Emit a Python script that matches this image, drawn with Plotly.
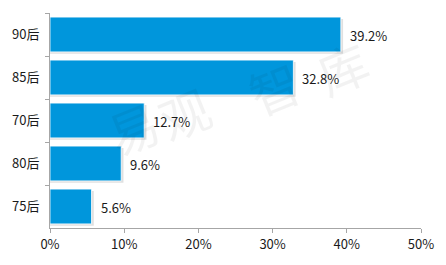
import plotly.graph_objects as go

categories = ["90后", "85后", "70后", "80后", "75后"]
values = [39.2, 32.8, 12.7, 9.6, 5.6]
x_ticks = [0, 10, 20, 30, 40, 50]
x_tick_labels = ["0%", "10%", "20%", "30%", "40%", "50%"]
watermark_chars = ["易", "观", "智", "库"]

BAR_W = 0.81
FONT = "Noto Sans CJK SC, Noto Sans, sans-serif"

fig = go.Figure()
# soft shadow
fig.add_trace(go.Bar(
    y=categories, x=[v + 0.3 for v in values], orientation="h",
    width=BAR_W, offset=-BAR_W / 2 + 0.045,
    marker=dict(color="rgba(0,0,0,0.12)", line=dict(width=0)),
    hoverinfo="skip", showlegend=False,
))
fig.add_trace(go.Bar(
    y=categories, x=values, orientation="h",
    width=BAR_W, offset=-BAR_W / 2,
    marker=dict(color="#0096dc", line=dict(color="white", width=0.8)),
    showlegend=False,
))

for c, v in zip(categories, values):
    fig.add_annotation(x=v, y=c, text=f"{v:.1f}%", showarrow=False,
                       xanchor="left", xshift=7, yshift=-1,
                       font=dict(family=FONT, size=13, color="#1a1a1a"))

wm_pos = [(0.223, 0.47), (0.362, 0.539), (0.603, 0.654), (0.786, 0.751)]
for ch, (px, py) in zip(watermark_chars, wm_pos):
    fig.add_annotation(x=px, y=py, xref="paper", yref="paper",
                       xanchor="center", yanchor="middle",
                       text=ch, showarrow=False, textangle=-22,
                       font=dict(family=FONT, size=50, color="rgba(0,0,0,0.05)"))

fig.update_layout(
    width=446, height=265,
    margin=dict(l=50, r=23, t=13, b=35),
    plot_bgcolor="white", paper_bgcolor="white",
    barmode="overlay",
    font=dict(family=FONT, size=13, color="#1a1a1a"),
    xaxis=dict(range=[0, 50], tickvals=x_ticks, ticktext=x_tick_labels,
               showgrid=False, zeroline=False, showline=True,
               linecolor="#a6a6a6", linewidth=1, ticks="outside",
               ticklen=4, tickcolor="#a6a6a6", fixedrange=True),
    yaxis=dict(autorange="reversed", showgrid=False, zeroline=False,
               showline=True, linecolor="#a6a6a6", linewidth=1,
               ticks="outside", tickson="boundaries", ticklen=4,
               tickcolor="#a6a6a6", ticklabelstandoff=7),
)

fig.write_html("out.html")
